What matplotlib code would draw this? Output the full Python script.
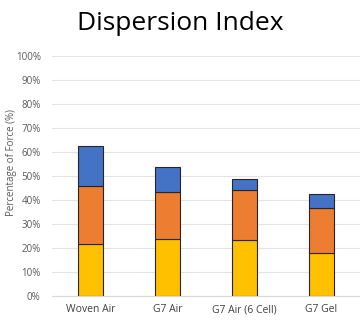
import matplotlib
matplotlib.use("Agg")
from matplotlib import pyplot as plt
from matplotlib.ticker import PercentFormatter
import numpy as np

categories = ['Woven Air', 'G7 Air', 'G7 Air (6 Cell)', 'G7 Gel']
bottom_part = [21.4, 23.5, 23.1, 17.7]
middle_part = [24.4, 19.8, 20.9, 18.7]
top_part = [16.6, 10.2, 4.5, 6.1]

plt.rcParams['font.family'] = ['Open Sans', 'DejaVu Sans']

fig = plt.figure(figsize=(3.6, 3.2), dpi=100)
ax = fig.add_axes([0.144, 0.076, 0.856, 0.75])

x = np.arange(len(categories))
w = 0.325
edge = dict(edgecolor='#262626', linewidth=0.8)
ax.bar(x, bottom_part, w, color='#FFC000', **edge)
ax.bar(x, middle_part, w, bottom=bottom_part, color='#ED7D31', **edge)
ax.bar(x, top_part, w, bottom=np.add(bottom_part, middle_part), color='#4472C4', **edge)

ax.set_xlim(-0.5, len(categories) - 0.5)
ax.set_ylim(0, 100)
ax.set_yticks(np.arange(0, 101, 10))
ax.yaxis.set_major_formatter(PercentFormatter(decimals=0))
ax.set_xticks(x)
ax.set_xticklabels(categories)
ax.tick_params(axis='y', length=0, pad=8, labelsize=7, labelcolor='#595959')
ax.tick_params(axis='x', length=0, pad=6, labelsize=7.5, labelcolor='#404040')
ax.grid(axis='y', color='#e3e3e3', linewidth=0.8)
ax.set_axisbelow(True)
for s in ['top', 'right', 'left']:
    ax.spines[s].set_visible(False)
ax.spines['bottom'].set_color('#d9d9d9')

ax.set_ylabel('Percentage of Force (%)', fontsize=7, color='#595959')
ax.yaxis.set_label_coords(-0.112, 0.555)
fig.text(0.5, 0.925, 'Dispersion Index', ha='center', va='center', fontsize=19, color='black')

fig.savefig('out.png', dpi=100)
